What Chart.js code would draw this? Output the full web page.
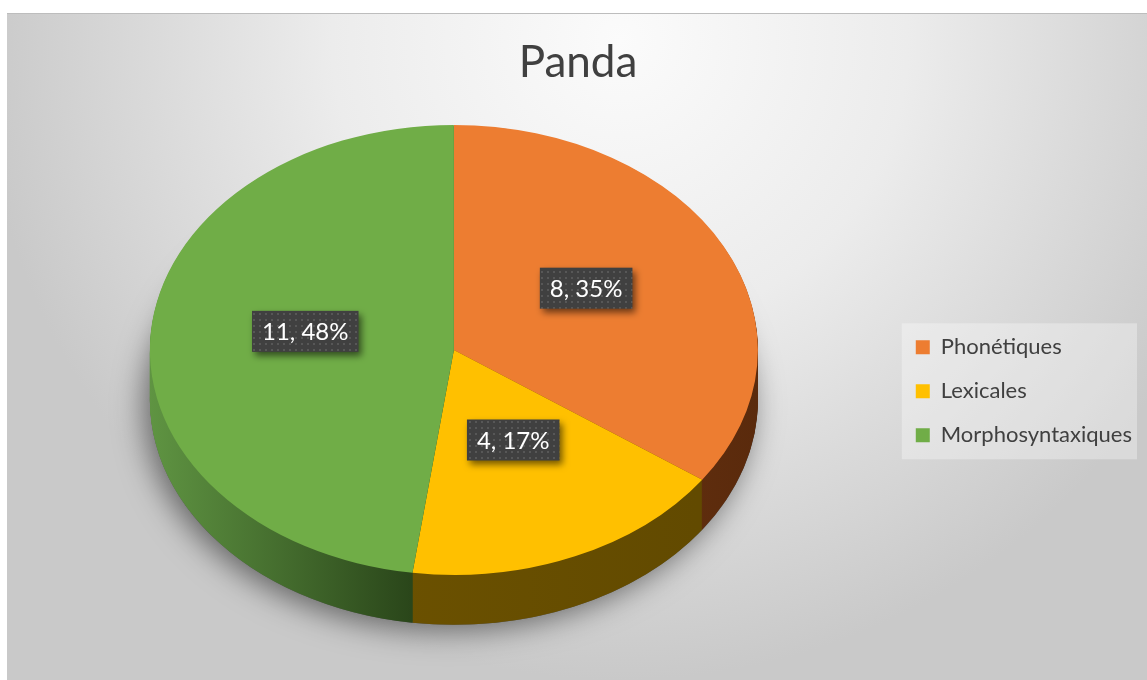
<!DOCTYPE html>
<html><head><meta charset="utf-8">
<script src="https://cdn.jsdelivr.net/npm/chart.js@4/dist/chart.umd.min.js"></script>
<style>html,body{margin:0;padding:0;background:#fff;overflow:hidden}#wrap{width:1147px;height:680px;position:relative}canvas{display:block}</style>
</head><body><div id="wrap"><canvas id="c" width="1147" height="680"></canvas></div>
<script>
// ---- data ----
const titleText = 'Panda';
const categories = ['Phonétiques', 'Lexicales', 'Morphosyntaxiques'];
const counts = [8, 4, 11];
const percentLabels = ['35%', '17%', '48%'];

// ---- styles ----
const topColors = ['#ED7D31', '#FFC000', '#70AD47'];
const sideStops = [
  [[0.55, '#6e3613'], [1, '#5a2a0c']],
  [[0.4, '#6b5100'], [0.9, '#624a00']],
  [[0, '#5f9442'], [0.43, '#2a461a']]
];
const SQUASH = 0.74, DEPTH = 50, LABEL_R = 0.49, LABEL_LIFT = 11;
const LEGEND_SHIFT_X = -5, LEGEND_SHIFT_Y = -3;
const FONT = 'Lato, "Open Sans", sans-serif';

function makePattern(ctx) {
  const c = document.createElement('canvas'); c.width = 6; c.height = 6;
  const g = c.getContext('2d');
  g.fillStyle = '#404040'; g.fillRect(0, 0, 6, 6);
  g.fillStyle = '#575757'; g.fillRect(1, 1, 2, 2);
  return ctx.createPattern(c, 'repeat');
}

let pushed = false;
const pie3d = {
  id: 'pie3d',
  beforeDraw(chart) {
    const ctx = chart.ctx, W = chart.width, H = chart.height, ca = chart.chartArea;
    const lg = chart.legend;
    if (lg) {
      const w = lg.width, h = lg.height;
      lg.left = ca.right + LEGEND_SHIFT_X; lg.right = lg.left + w;
      lg.top = ca.top + LEGEND_SHIFT_Y; lg.bottom = lg.top + h;
    }
    ctx.save();
    ctx.fillStyle = '#fff'; ctx.fillRect(0, 0, W, H);
    const g = ctx.createRadialGradient(620, 40, 0, 620, 40, 640);
    g.addColorStop(0, '#fbfbfb'); g.addColorStop(0.45, '#ececec'); g.addColorStop(1, '#c9c9c9');
    ctx.fillStyle = g; ctx.fillRect(7, 13, W - 7, H - 13);
    ctx.strokeStyle = '#bdbdbd'; ctx.lineWidth = 1;
    ctx.beginPath(); ctx.moveTo(7, 13.5); ctx.lineTo(W, 13.5); ctx.stroke();
    if (lg) {
      const mid = (lg.top + lg.bottom) / 2;
      const l = lg.left + lg.options.labels.padding - 14;
      ctx.fillStyle = 'rgba(255,255,255,0.32)';
      ctx.fillRect(l, mid - 68, 1137 - l, 136);
    }
    ctx.restore();
  },
  beforeDatasetsDraw(chart) {
    const ctx = chart.ctx;
    const arcs = chart.getDatasetMeta(0).data;
    pushed = false;
    if (!arcs.length) return;
    const cx = arcs[0].x, cy = arcs[0].y, r = arcs[0].outerRadius;
    ctx.save();
    ctx.shadowColor = 'rgba(0,0,0,0.5)'; ctx.shadowBlur = 30; ctx.shadowOffsetX = -6; ctx.shadowOffsetY = 6;
    ctx.beginPath(); ctx.ellipse(cx, cy + DEPTH, r, r * SQUASH, 0, 0, Math.PI * 2);
    ctx.fillStyle = '#555'; ctx.fill();
    ctx.restore();
    for (let d = DEPTH; d >= 1; d--) {
      ctx.save(); ctx.translate(cx, cy + d); ctx.scale(1, SQUASH);
      arcs.forEach((a, i) => {
        const gr = ctx.createLinearGradient(-r, 0, r, 0);
        sideStops[i].forEach(s => gr.addColorStop(s[0], s[1]));
        ctx.beginPath(); ctx.moveTo(0, 0);
        ctx.arc(0, 0, a.outerRadius, a.startAngle, a.endAngle);
        ctx.closePath(); ctx.fillStyle = gr; ctx.fill();
      });
      ctx.restore();
    }
    ctx.save(); ctx.translate(cx, cy); ctx.scale(1, SQUASH); ctx.translate(-cx, -cy);
    pushed = true;
  },
  afterDatasetsDraw(chart) {
    const ctx = chart.ctx;
    if (pushed) { ctx.restore(); pushed = false; }
    const arcs = chart.getDatasetMeta(0).data;
    if (!arcs.length) return;
    const cx = arcs[0].x, cy = arcs[0].y;
    const pat = makePattern(ctx);
    ctx.save();
    ctx.font = '24px ' + FONT;
    arcs.forEach((a, i) => {
      const mid = (a.startAngle + a.endAngle) / 2;
      const px = cx + LABEL_R * a.outerRadius * Math.cos(mid);
      const py = cy + LABEL_R * a.outerRadius * SQUASH * Math.sin(mid) - LABEL_LIFT;
      const txt = counts[i] + ', ' + percentLabels[i];
      const w = ctx.measureText(txt).width + 20, h = 41;
      ctx.save();
      ctx.shadowColor = 'rgba(0,0,0,0.55)'; ctx.shadowBlur = 7; ctx.shadowOffsetX = 3; ctx.shadowOffsetY = 4;
      ctx.fillStyle = pat; ctx.fillRect(px - w / 2, py - h / 2, w, h);
      ctx.restore();
      ctx.fillStyle = '#ffffff'; ctx.textAlign = 'center'; ctx.textBaseline = 'middle';
      ctx.fillText(txt, px, py + 1);
    });
    ctx.restore();
  }
};

new Chart(document.getElementById('c'), {
  type: 'pie',
  data: {
    labels: categories,
    datasets: [{
      data: counts,
      backgroundColor: topColors,
      borderWidth: 0,
      radius: 304,
      clip: false,
      hoverOffset: 0
    }]
  },
  options: {
    responsive: false,
    animation: false,
    events: [],
    layout: { padding: { left: 9, right: 0, top: 0, bottom: 69 } },
    plugins: {
      title: {
        display: true, text: titleText, color: '#404040',
        font: { family: FONT, size: 44, weight: 'normal' },
        padding: { top: 36, bottom: 0 }
      },
      legend: {
        display: true, position: 'right', align: 'center',
        labels: { color: '#404040', font: { family: FONT, size: 22 }, boxWidth: 14, boxHeight: 14, padding: 22 }
      },
      tooltip: { enabled: false }
    }
  },
  plugins: [pie3d]
});
</script>
</body></html>
